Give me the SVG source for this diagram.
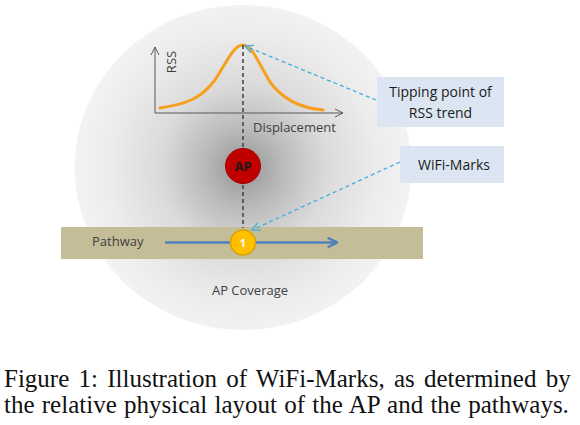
<svg xmlns="http://www.w3.org/2000/svg" width="580" height="425" viewBox="0 0 580 425">
<style>
.lbl{font-family:"Open Sans","Noto Sans",sans-serif;font-size:13px;fill:#404040}
.box{fill:#dce6f2}
.boxt{font-family:"Open Sans","Noto Sans",sans-serif;font-size:14px;fill:#1a1a1a;text-anchor:middle}
.cap{font-family:"Liberation Serif","Times New Roman",serif;font-size:25px;fill:#111}
.axis{stroke:#595959;stroke-width:1;fill:none}
.cyan{stroke:#3fb0e0;stroke-width:1.3;stroke-dasharray:4 3;fill:none}
</style>
<defs>
<radialGradient id="cov" cx="243" cy="168" r="168" gradientUnits="userSpaceOnUse">
<stop offset="0" stop-color="#959595"/>
<stop offset="0.25" stop-color="#bcbcbc"/>
<stop offset="0.5" stop-color="#dbdbdb"/>
<stop offset="0.8" stop-color="#ececec"/>
<stop offset="1" stop-color="#f3f3f3"/>
</radialGradient>
<marker id="ax" viewBox="0 0 10 10" refX="9" refY="5" markerWidth="10" markerHeight="10" markerUnits="userSpaceOnUse" orient="auto">
<path d="M1,1 L9,5 L1,9" fill="none" stroke="#595959" stroke-width="1"/>
</marker>
<marker id="cy" viewBox="0 0 10 10" refX="9" refY="5" markerWidth="10" markerHeight="10" markerUnits="userSpaceOnUse" orient="auto">
<path d="M1,1 L9,5 L1,9" fill="none" stroke="#3fb0e0" stroke-width="1.3"/>
</marker>
<marker id="bl" viewBox="0 0 10 10" refX="8" refY="5" markerWidth="12" markerHeight="12" markerUnits="userSpaceOnUse" orient="auto">
<path d="M1,1 L9,5 L1,9" fill="none" stroke="#4f81bd" stroke-width="2"/>
</marker>
</defs>

<g id="coverage">
<ellipse cx="243" cy="167.5" rx="168.5" ry="162.5" fill="url(#cov)"/>
<text class="lbl" x="250" y="295" text-anchor="middle">AP Coverage</text>
</g>

<g id="pathway">
<rect x="61" y="227" width="362" height="32" fill="#c4bd97"/>
<text class="lbl" x="92" y="246">Pathway</text>
</g>

<g id="chart">
<line class="axis" x1="155" y1="113" x2="155" y2="47" marker-end="url(#ax)"/>
<line class="axis" x1="155" y1="113" x2="343" y2="113" marker-end="url(#ax)"/>
<text class="lbl" transform="translate(176,62) rotate(-90)" text-anchor="middle">RSS</text>
<text class="lbl" x="253" y="132">Displacement</text>
<path d="M160,108 C185,104 200,100 215,80 C228,60 234,45 243,45 C252,45 258,62 270,82 C283,100 300,108 323,110" fill="none" stroke="#f7a020" stroke-width="3" stroke-linecap="round"/>
</g>

<g id="connectors">
<line x1="243" y1="45" x2="243" y2="228" stroke="#404040" stroke-width="1.5" stroke-dasharray="4 3"/>
<path d="M165,242.5 L336,242.5" stroke="#4f81bd" stroke-width="2.5" fill="none" marker-end="url(#bl)"/>
<line class="cyan" x1="376" y1="100" x2="245" y2="46" marker-end="url(#cy)"/>
<line class="cyan" x1="400" y1="162" x2="252" y2="230" marker-end="url(#cy)"/>
</g>

<g id="ap">
<circle cx="243" cy="166" r="17.5" fill="#c00000" stroke="#a00000" stroke-width="1"/>
<text x="243" y="171" text-anchor="middle" font-family="'Open Sans','Noto Sans',sans-serif" font-size="13" font-weight="bold" fill="#1a1a1a">AP</text>
</g>

<g id="mark1">
<circle cx="243" cy="242.5" r="12.5" fill="#ffc000" stroke="#d9a000" stroke-width="1.5"/>
<text x="243" y="247" text-anchor="middle" font-family="'Open Sans','Noto Sans',sans-serif" font-size="11" font-weight="bold" fill="#ffffff">1</text>
</g>

<g id="tipping">
<rect class="box" x="377" y="77" width="127" height="50"/>
<text class="boxt" x="440.5" y="97">Tipping point of</text>
<text class="boxt" x="440.5" y="118">RSS trend</text>
</g>

<g id="wifimarks">
<rect class="box" x="400" y="146" width="104" height="37"/>
<text class="boxt" x="454" y="170">WiFi-Marks</text>
</g>

<g id="caption">
<text class="cap" x="4" y="387" word-spacing="3">Figure 1: Illustration of WiFi-Marks, as determined by</text>
<text class="cap" x="4" y="413" word-spacing="1">the relative physical layout of the AP and the pathways.</text>
</g>
</svg>
